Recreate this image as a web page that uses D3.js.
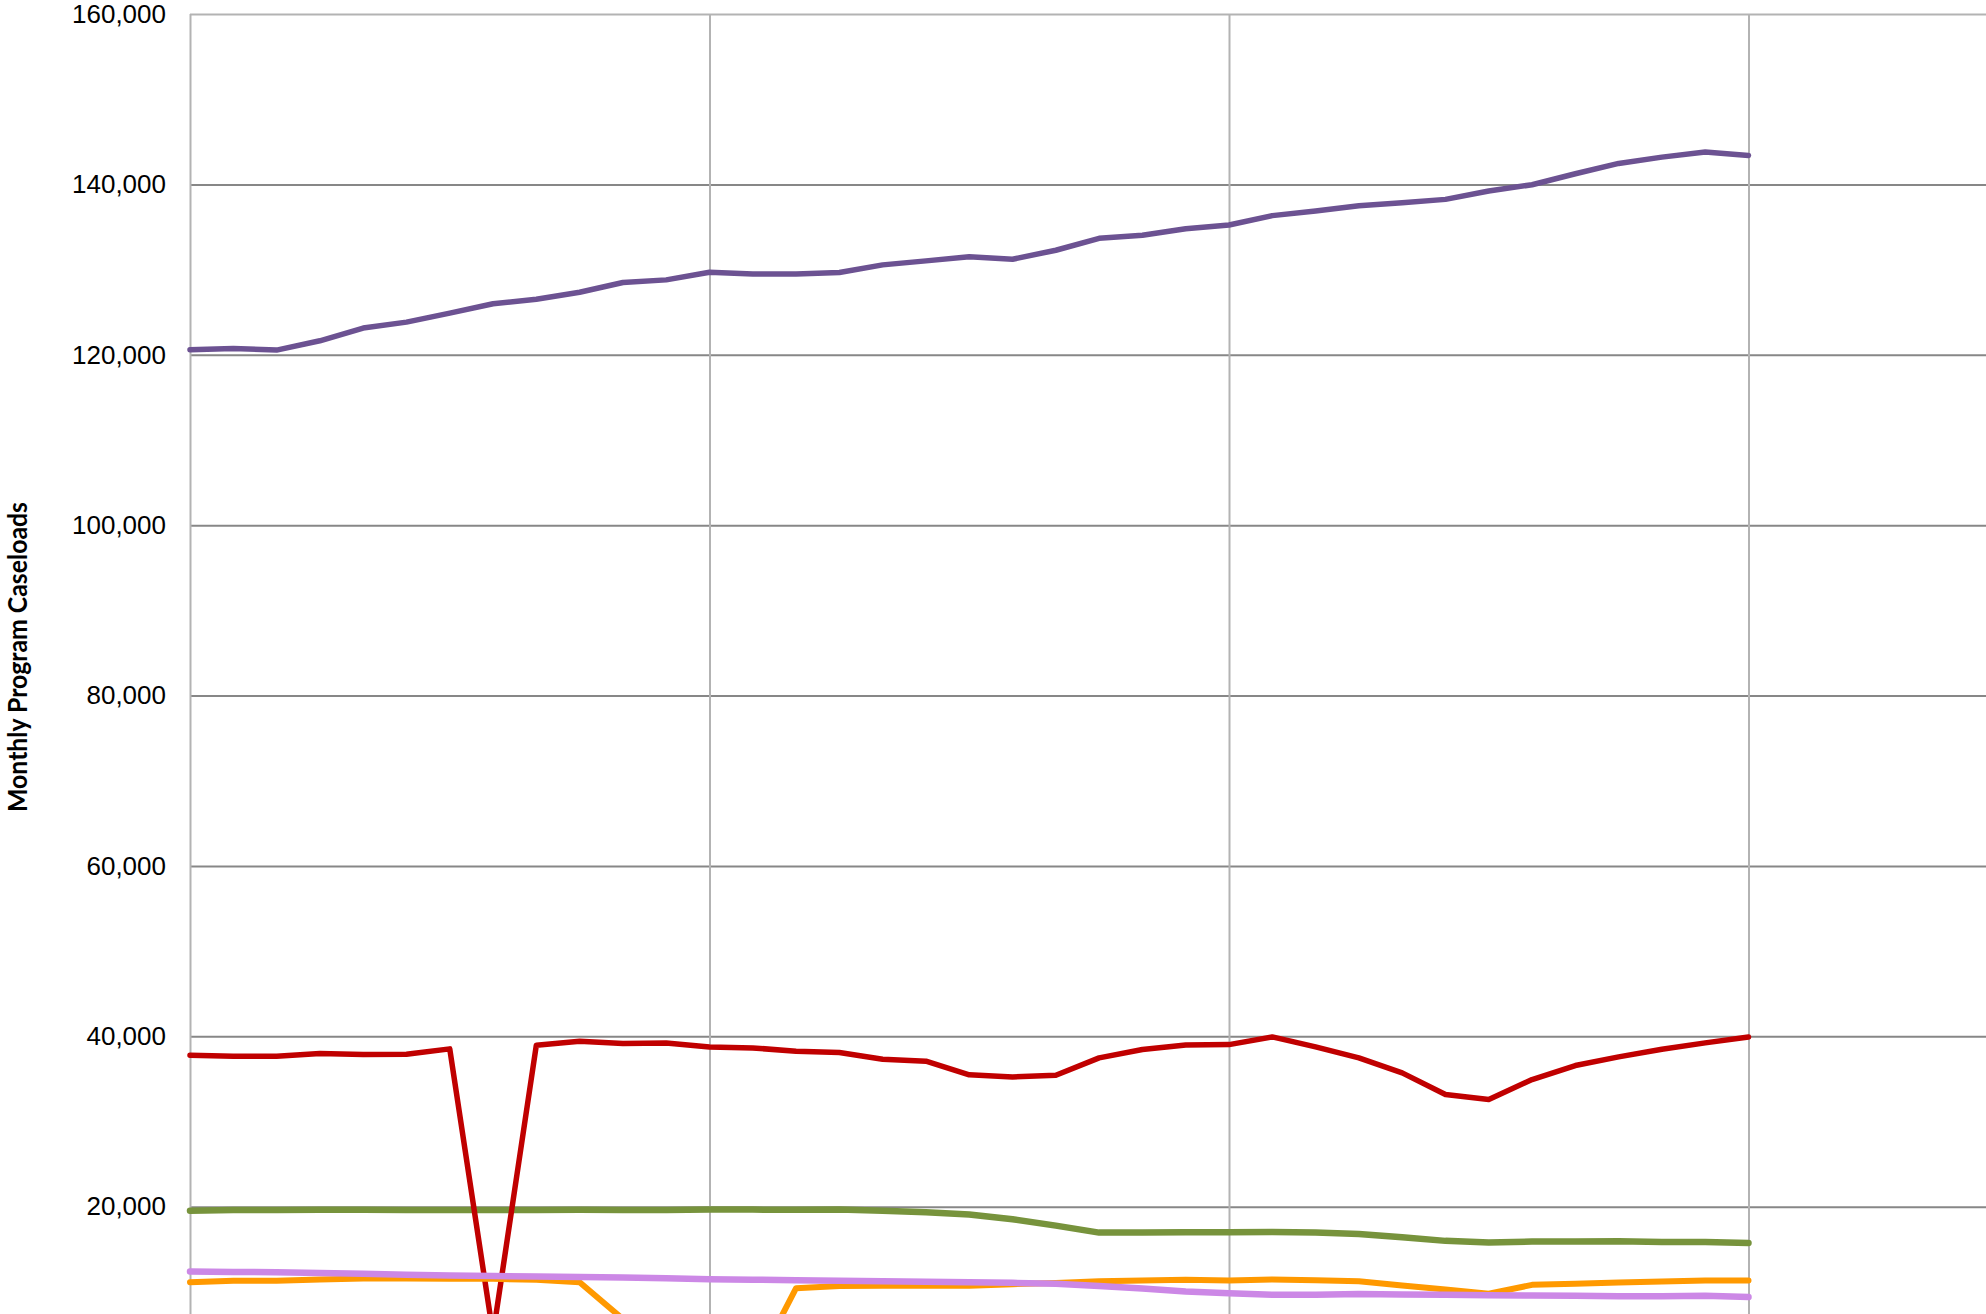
<!DOCTYPE html>
<html>
<head>
<meta charset="utf-8">
<script src="https://cdn.jsdelivr.net/npm/d3@7"></script>
<style>
  html, body { margin: 0; padding: 0; overflow: hidden; background: #fff; }
</style>
</head>
<body>
<div id="chart"></div>
<script>
// Datos (casos mensuales, 37 meses)
const months = d3.range(37);
const yearTicks = [0, 12, 24, 36, 48];
const yTicks = [20000, 40000, 60000, 80000, 100000, 120000, 140000, 160000];

const purpleSeries = [120590, 120740, 120550, 121640, 123130, 123830, 124880, 125980, 126520, 127340,
    128480, 128790, 129690, 129490, 129490, 129650, 130550, 131020, 131500, 131210, 132270, 133670,
    134020, 134800, 135230, 136330, 136880, 137500, 137850, 138240, 139220, 139960, 141250, 142460,
    143200, 143790, 143400];
const redSeries = [37770, 37660, 37660, 37970, 37850, 37890, 38520, 5000, 38950, 39410, 39140, 39220,
    38750, 38630, 38240, 38090, 37300, 37070, 35470, 35230, 35430, 37460, 38440, 38980, 39020, 39920,
    38750, 37460, 35700, 33160, 32580, 34920, 36560, 37580, 38480, 39220, 39920];
const greenSeries = [19530, 19610, 19600, 19620, 19630, 19610, 19600, 19590, 19590, 19620, 19610, 19600,
    19660, 19650, 19640, 19650, 19530, 19340, 19080, 18520, 17770, 16950, 16950, 16990, 16990, 17030,
    16950, 16800, 16410, 15980, 15780, 15900, 15900, 15940, 15860, 15860, 15740];
const orangeSeries = [11130, 11290, 11290, 11450, 11560, 11560, 11520, 11520, 11410, 11130, 6800, 3000,
    1000, 600, 10430, 10670, 10700, 10700, 10720, 10900, 11020, 11250, 11330, 11410, 11330, 11450,
    11370, 11250, 10740, 10270, 9770, 10820, 10940, 11090, 11210, 11330, 11330];
const lavenderSeries = [12380, 12340, 12300, 12200, 12110, 12010, 11910, 11850, 11800, 11740, 11680,
    11580, 11480, 11420, 11370, 11310, 11250, 11190, 11110, 11050, 10940, 10670, 10390, 10040, 9840,
    9650, 9650, 9730, 9690, 9650, 9610, 9570, 9530, 9490, 9490, 9530, 9380];

const WIDTH = 1986;
const HEIGHT = 1314;

// el grafico original sigue mas alla del borde derecho e inferior
const PLOT_LEFT = 190;
const PLOT_RIGHT = 2268;
const PLOT_TOP = 14;
const PLOT_BOTTOM = 1377;

const SVG = d3.select("#chart").append("svg")
    .attr("width", WIDTH)
    .attr("height", HEIGHT)
    .style("display", "block");

const x = d3.scaleLinear().domain([0, 48]).range([PLOT_LEFT, PLOT_RIGHT]);
const y = d3.scaleLinear().domain([0, 160000]).range([PLOT_BOTTOM, PLOT_TOP]);

// grilla horizontal
const hGrid = SVG.append("g")
    .attr("transform", `translate(${PLOT_LEFT},0)`)
    .call(d3.axisLeft(y).tickValues(yTicks).tickSize(-(PLOT_RIGHT - PLOT_LEFT)).tickFormat(""));
hGrid.select(".domain").remove();
hGrid.selectAll("line")
    .attr("stroke", d => d === 160000 ? "#b3b3b3" : "#878787")
    .attr("stroke-width", 2);

// grilla vertical (años)
const vGrid = SVG.append("g")
    .attr("transform", `translate(0,${PLOT_TOP})`)
    .call(d3.axisBottom(x).tickValues(yearTicks).tickSize(PLOT_BOTTOM - PLOT_TOP).tickFormat(""));
vGrid.select(".domain").remove();
vGrid.selectAll("line")
    .attr("stroke", "#b3b3b3")
    .attr("stroke-width", 2);

// etiquetas del eje y
const yAxis = SVG.append("g")
    .attr("transform", `translate(${PLOT_LEFT},0)`)
    .call(d3.axisLeft(y).tickValues(yTicks).tickSize(0).tickPadding(24).tickFormat(d3.format(",")));
yAxis.select(".domain").remove();
yAxis.selectAll("text")
    .attr("font-family", "'Liberation Sans', Arial, sans-serif")
    .attr("font-size", 26)
    .attr("fill", "#000");

SVG.append("text")
    .attr("transform", `translate(27,657) rotate(-90)`)
    .attr("text-anchor", "middle")
    .attr("font-family", "Lato, 'Open Sans', sans-serif")
    .attr("font-weight", "bold")
    .attr("font-size", 26)
    .attr("textLength", 310)
    .attr("lengthAdjust", "spacingAndGlyphs")
    .attr("fill", "#000")
    .text("Monthly Program Caseloads");

const line = d3.line()
    .x((d, i) => x(months[i]))
    .y(d => y(d));

const seriesList = [
    { values: purpleSeries, color: "#6c5292", width: 5.5 },
    { values: greenSeries, color: "#77933c", width: 6.5 },
    { values: redSeries, color: "#c00000", width: 5.5 },
    { values: orangeSeries, color: "#ff9900", width: 6 },
    { values: lavenderSeries, color: "#cc88e6", width: 6.5 }
];

SVG.append("g")
    .selectAll("path")
    .data(seriesList)
    .join("path")
    .attr("d", d => line(d.values))
    .attr("fill", "none")
    .attr("stroke", d => d.color)
    .attr("stroke-width", d => d.width)
    .attr("stroke-linejoin", "round")
    .attr("stroke-linecap", "round");
</script>
</body>
</html>
